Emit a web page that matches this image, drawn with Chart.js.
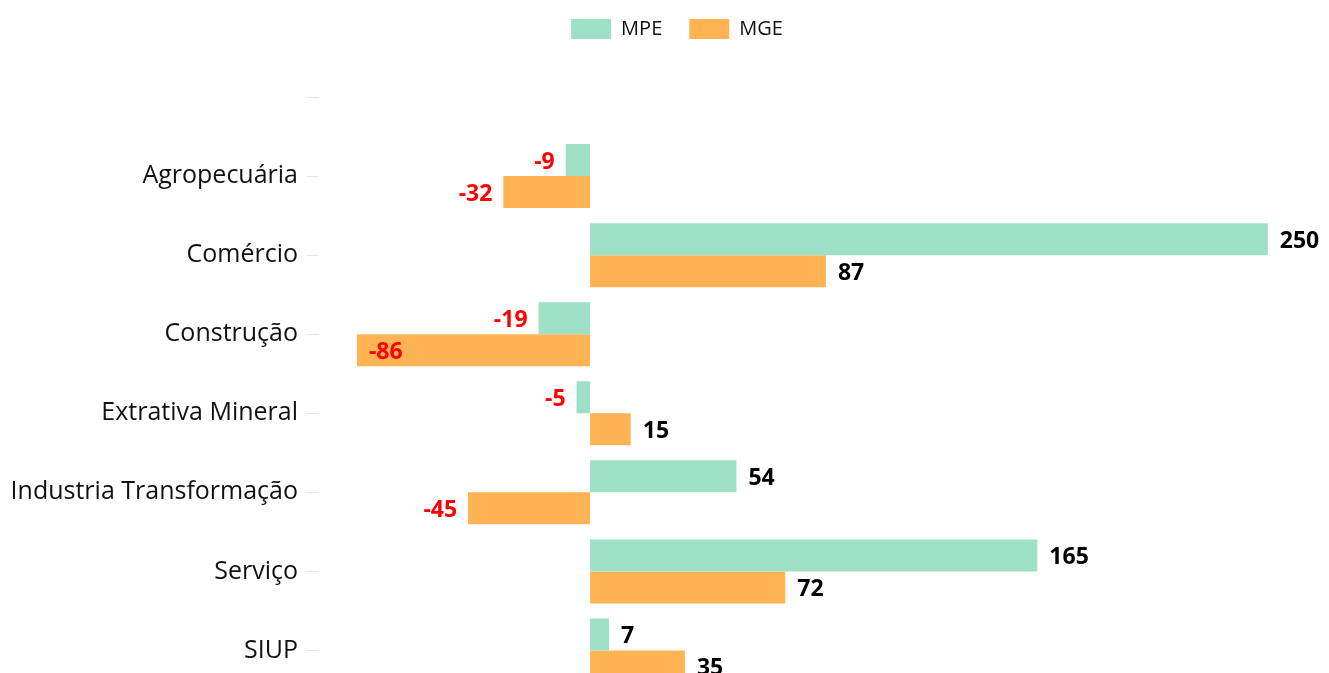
<!DOCTYPE html>
<html>
<head>
<meta charset="utf-8">
<script src="https://cdn.jsdelivr.net/npm/chart.js@4.4.0/dist/chart.umd.min.js"></script>
<style>
html,body{margin:0;padding:0;overflow:hidden;background:#fff;}
</style>
</head>
<body>
<canvas id="saldoChart" width="1329" height="713"></canvas>
<script>
const categories = ["", "Agropecuária", "Comércio", "Construção", "Extrativa Mineral", "Industria Transformação", "Serviço", "SIUP"];
const mpeValues = [null, -9, 250, -19, -5, 54, 165, 7];
const mgeValues = [null, -32, 87, -86, 15, -45, 72, 35];

const FONT = "'Open Sans', 'Noto Sans', sans-serif";

// value labels next to the bars (red when negative, inside the bar if no room)
const valueLabels = {
  id: "valueLabels",
  afterDatasetsDraw(chart) {
    const ctx = chart.ctx;
    const area = chart.chartArea;
    ctx.save();
    ctx.font = "bold 23px " + FONT;
    ctx.textBaseline = "middle";
    chart.data.datasets.forEach((ds, i) => {
      const meta = chart.getDatasetMeta(i);
      meta.data.forEach((bar, j) => {
        const v = ds.data[j];
        if (v === null || v === undefined) return;
        const txt = String(v);
        if (v < 0) {
          ctx.fillStyle = "#ff0000";
          const w = ctx.measureText(txt).width;
          if (bar.x - 11 - w < area.left) {
            ctx.textAlign = "left";
            ctx.fillText(txt, bar.x + 12, bar.y + 2);
          } else {
            ctx.textAlign = "right";
            ctx.fillText(txt, bar.x - 11, bar.y + 2);
          }
        } else {
          ctx.fillStyle = "#000000";
          ctx.textAlign = "left";
          ctx.fillText(txt, bar.x + 12, bar.y + 2);
        }
      });
    });
    ctx.restore();
  }
};

// legend spacing tweaks
const legendGap = {
  id: "legendGap",
  beforeInit(chart) {
    const fit = chart.legend.fit;
    chart.legend.fit = function () {
      fit.bind(chart.legend)();
      this.height = 65.5;
    };
  },
  beforeDraw(chart) {
    chart.legend.left += 16;
    chart.legend.right += 16;
  },
  afterDraw(chart) {
    chart.legend.left -= 16;
    chart.legend.right -= 16;
  }
};

new Chart(document.getElementById("saldoChart"), {
  type: "bar",
  data: {
    labels: categories,
    datasets: [{
      label: "MPE",
      data: mpeValues,
      backgroundColor: "#9ee0c6"
    }, {
      label: "MGE",
      data: mgeValues,
      backgroundColor: "#ffb352"
    }]
  },
  options: {
    indexAxis: "y",
    responsive: false,
    animation: false,
    layout: { padding: { top: -8, right: 7, left: 0, bottom: 10.5 } },
    datasets: { bar: { categoryPercentage: 0.81, barPercentage: 1.0 } },
    plugins: {
      legend: {
        position: "top",
        labels: {
          boxWidth: 40,
          boxHeight: 20,
          padding: 27,
          color: "#111",
          font: { family: FONT, size: 20 }
        }
      },
      tooltip: { enabled: false }
    },
    scales: {
      x: {
        display: false,
        min: -100,
        max: 270
      },
      y: {
        afterFit(scale) { scale.width = 319; },
        border: { display: false },
        grid: { drawOnChartArea: false, offset: false, color: "#e6e6e6", tickLength: 13 },
        ticks: {
          color: "#111",
          padding: 8,
          font: { family: FONT, size: 25 }
        }
      }
    }
  },
  plugins: [valueLabels, legendGap]
});
</script>
</body>
</html>
